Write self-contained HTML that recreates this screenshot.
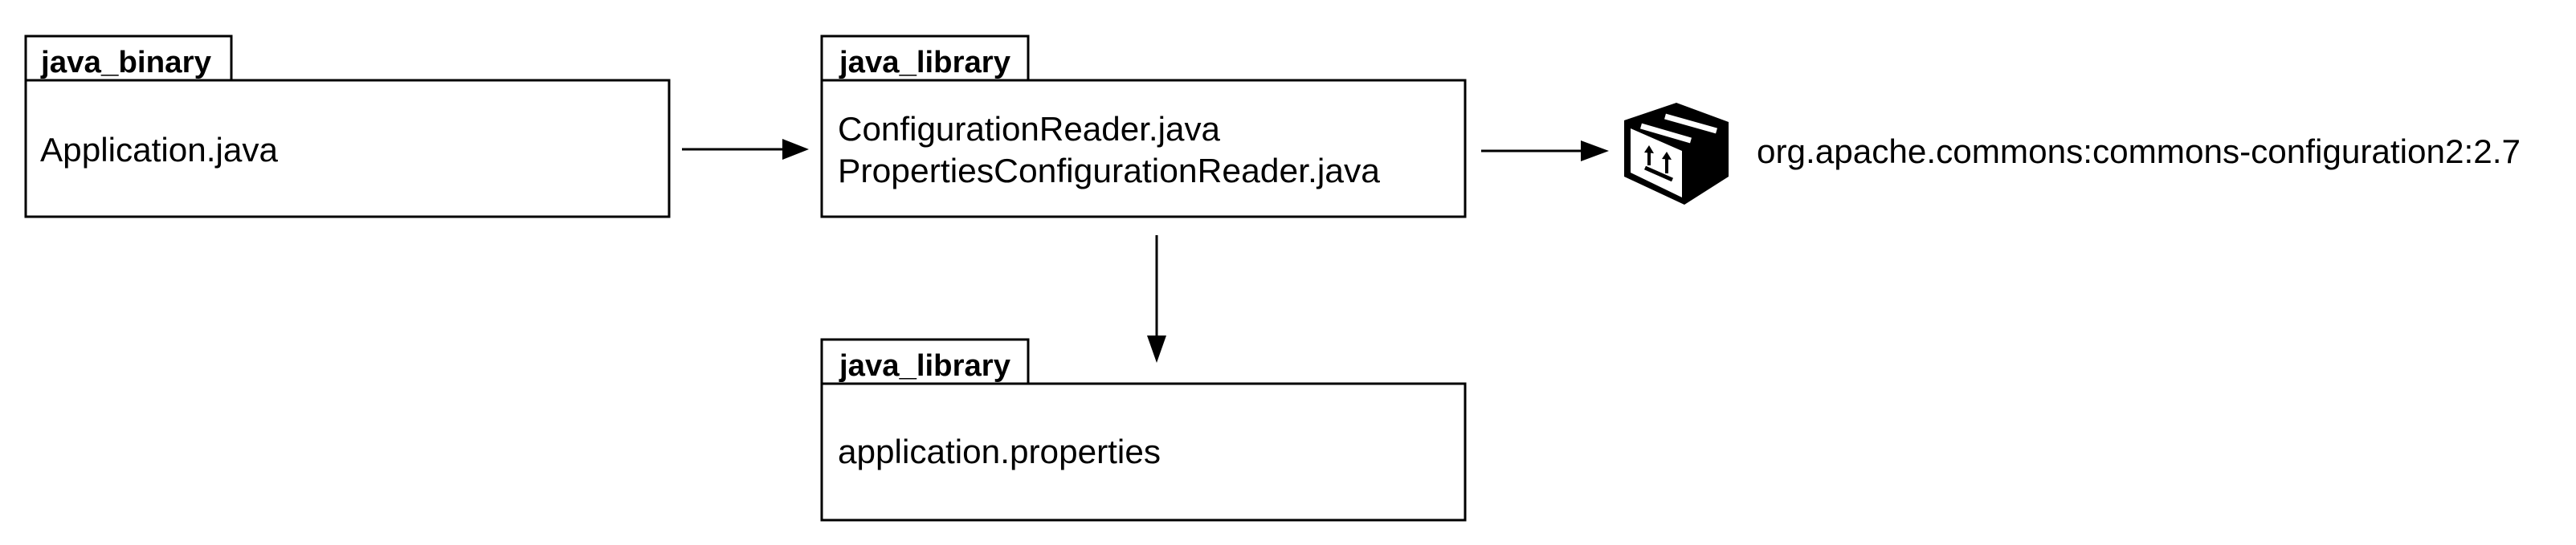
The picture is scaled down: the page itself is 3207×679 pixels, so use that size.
<!DOCTYPE html>
<html><head><meta charset="utf-8"><style>
html,body{margin:0;padding:0;background:#fff;}
svg{display:block;}
text{font-family:"Liberation Sans",Arial,sans-serif;fill:#000;}
.b{font-weight:bold;font-size:38px;}
.r{font-size:42px;}
</style></head><body>
<svg width="3207" height="679" viewBox="0 0 3207 679" xmlns="http://www.w3.org/2000/svg">
<g fill="none" stroke="#000" stroke-width="3">
<rect x="32" y="45" width="256" height="55"/>
<rect x="32" y="100" width="801" height="170"/>
<rect x="1023" y="45" width="257" height="55"/>
<rect x="1023" y="100" width="801" height="170"/>
<rect x="1023" y="423" width="257" height="55"/>
<rect x="1023" y="478" width="801" height="170"/>
<line x1="849" y1="186" x2="976" y2="186"/>
<line x1="1844" y1="188" x2="1970" y2="188"/>
<line x1="1440" y1="293" x2="1440" y2="420"/>
</g>
<polygon points="974,173 1007,186 974,199" fill="#000"/>
<polygon points="1968,175 2003,188 1968,201" fill="#000"/>
<polygon points="1428,418 1452,418 1440,452" fill="#000"/>

<text class="b" x="51" y="90" textLength="212" lengthAdjust="spacingAndGlyphs">java_binary</text>
<text class="r" x="50" y="201" textLength="296" lengthAdjust="spacingAndGlyphs">Application.java</text>
<text class="b" x="1045" y="90" textLength="213" lengthAdjust="spacingAndGlyphs">java_library</text>
<text class="r" x="1043" y="175" textLength="476" lengthAdjust="spacingAndGlyphs">ConfigurationReader.java</text>
<text class="r" x="1043" y="227" textLength="675" lengthAdjust="spacingAndGlyphs">PropertiesConfigurationReader.java</text>
<text class="b" x="1045" y="468" textLength="213" lengthAdjust="spacingAndGlyphs">java_library</text>
<text class="r" x="1043" y="577" textLength="402" lengthAdjust="spacingAndGlyphs">application.properties</text>
<text class="r" x="2187" y="203" textLength="951" lengthAdjust="spacingAndGlyphs">org.apache.commons:commons-configuration2:2.7</text>

<g transform="translate(2015,120)">
<polygon points="72,8 7,30 7,100 82,135 137,100 137,32" fill="#000"/>
<polygon points="15,40 15,95 79,126 79,68" fill="#fff"/>
<line x1="28" y1="37" x2="90" y2="55" stroke="#fff" stroke-width="7"/>
<line x1="58" y1="25" x2="122" y2="43" stroke="#fff" stroke-width="7"/>
<g stroke="#000" stroke-width="4" fill="#000">
<line x1="38" y1="68" x2="38" y2="86"/>
<line x1="60" y1="76" x2="60" y2="96"/>
<line x1="33" y1="89" x2="67" y2="104" stroke-width="5"/>
</g>
<polygon points="32,70 38,61 44,71" fill="#000"/>
<polygon points="54,78 60,69 66,79" fill="#000"/>
</g>
</svg>
</body></html>
